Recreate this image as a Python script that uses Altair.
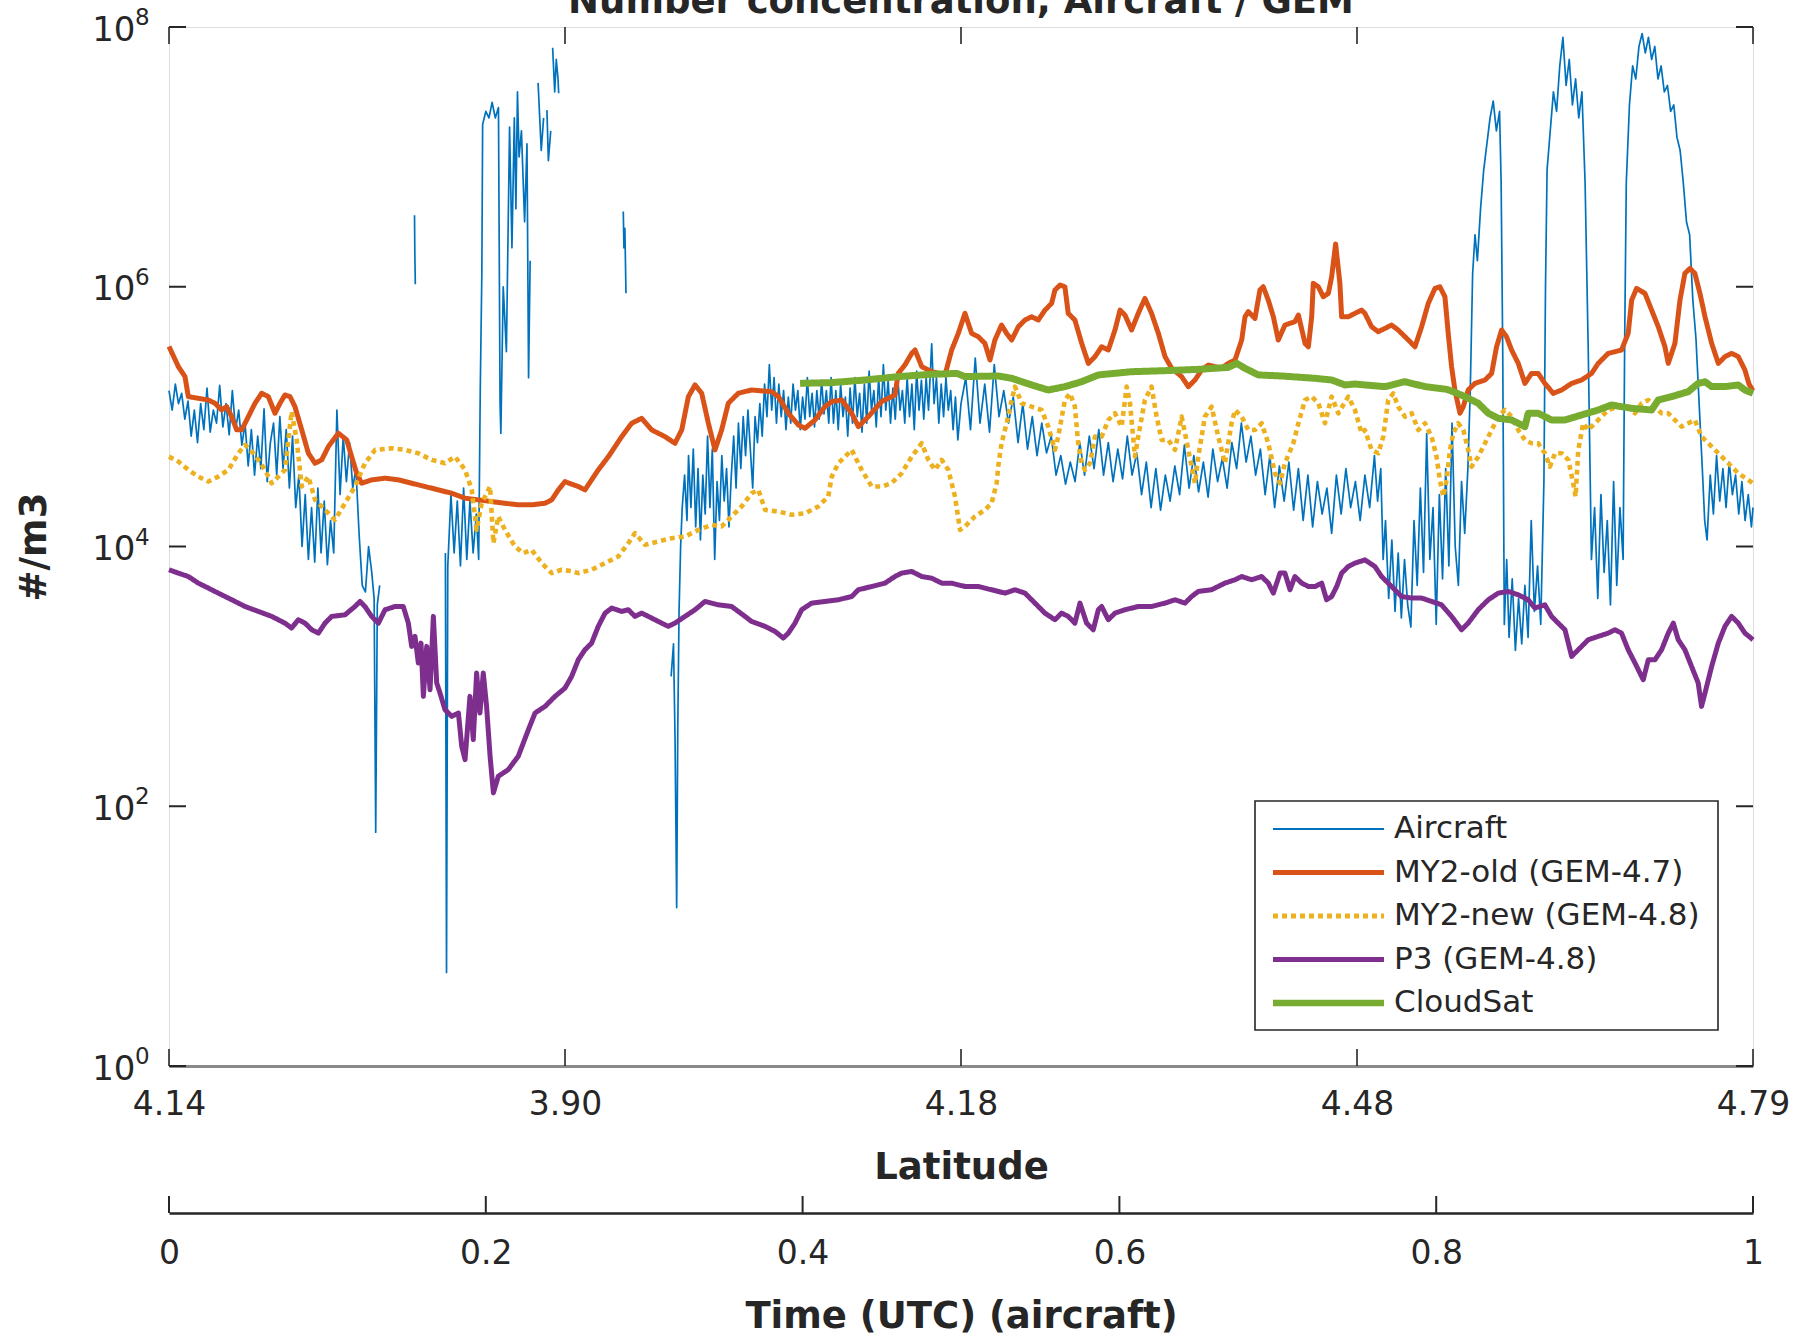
import json
import altair as alt
import pandas as pd

# ---------------- data (x: fraction of flight time 0..1, value: log10 of #/m3) -------------
TITLE = "Number concentration, Aircraft / GEM"
SERIES = ["Aircraft", "MY2-old (GEM-4.7)", "MY2-new (GEM-4.8)", "P3 (GEM-4.8)", "CloudSat"]
COLORS = ["#0072BD", "#D95319", "#EDB120", "#7E2F8E", "#77AC30"]
WIDTHS = [1.7, 5.0, 4.6, 5.0, 7.0]
LEGEND_WIDTHS = [2.2, 5.0, 5.0, 5.0, 6.5]
DASHES = [[1, 0], [1, 0], [5, 4], [1, 0], [1, 0]]

LAT_TICK_POS = [0, 0.25, 0.5, 0.75, 1]
LAT_TICK_LABELS = ["4.14", "3.90", "4.18", "4.48", "4.79"]
TIME_TICKS = [0, 0.2, 0.4, 0.6, 0.8, 1]
TIME_TICK_LABELS = ["0", "0.2", "0.4", "0.6", "0.8", "1"]
Y_TICK_EXP = [0, 2, 4, 6, 8]

AIRCRAFT_SEGMENTS = [
    [(0.000, 5.20), (0.002, 5.05), (0.004, 5.25), (0.006, 5.10), (0.008, 5.18), (0.010, 4.98),
     (0.012, 5.12), (0.014, 4.85), (0.016, 5.05), (0.018, 4.80), (0.020, 5.10), (0.022, 4.90),
     (0.024, 5.22), (0.026, 4.88), (0.028, 5.05), (0.030, 4.95), (0.032, 5.24), (0.034, 4.92),
     (0.036, 5.10), (0.038, 4.86), (0.040, 5.20), (0.042, 4.90), (0.044, 5.05), (0.046, 4.78),
     (0.048, 4.95), (0.050, 4.62), (0.052, 4.90), (0.054, 4.55), (0.056, 4.85), (0.058, 4.60),
     (0.060, 5.06), (0.062, 4.50), (0.064, 4.80), (0.066, 4.95), (0.068, 4.55), (0.070, 5.00),
     (0.072, 4.60), (0.074, 4.90), (0.076, 4.45), (0.078, 4.85), (0.080, 4.30), (0.082, 4.55),
     (0.084, 4.00), (0.086, 4.40), (0.088, 3.90), (0.090, 4.30), (0.092, 3.88), (0.094, 4.45),
     (0.096, 3.95), (0.098, 4.35), (0.100, 3.86), (0.102, 4.20), (0.104, 3.95), (0.106, 5.05),
     (0.108, 4.40), (0.110, 4.85), (0.112, 4.50), (0.114, 4.80), (0.116, 4.45), (0.118, 4.60),
     (0.120, 4.10), (0.122, 3.70), (0.124, 3.65), (0.126, 4.00), (0.128, 3.80), (0.1295, 3.60),
     (0.1305, 1.80), (0.1315, 3.55), (0.133, 3.70)],
    [(0.1550, 6.55), (0.1552, 6.25), (0.1555, 6.02)],
    [(0.1745, 3.95), (0.1752, 0.72), (0.1760, 3.85), (0.178, 4.40), (0.180, 3.95), (0.182, 4.35),
     (0.184, 3.85), (0.186, 4.45), (0.188, 3.90), (0.190, 4.35), (0.192, 3.95), (0.194, 4.25),
     (0.1955, 3.90), (0.1965, 5.20), (0.1975, 6.10), (0.198, 7.25), (0.200, 7.35), (0.202, 7.30),
     (0.204, 7.42), (0.206, 7.30), (0.208, 7.38), (0.209, 5.10), (0.2095, 4.87), (0.211, 6.00),
     (0.213, 5.50), (0.215, 7.23), (0.2165, 6.30), (0.218, 7.30), (0.219, 6.60), (0.220, 7.50),
     (0.221, 7.00), (0.2225, 7.20), (0.2245, 6.50), (0.226, 7.10), (0.227, 5.30), (0.228, 6.20)],
    [(0.233, 7.57), (0.235, 7.05), (0.2365, 7.30)],
    [(0.2386, 7.36), (0.2395, 6.97), (0.241, 7.20)],
    [(0.2422, 7.84), (0.2435, 7.50), (0.2445, 7.75), (0.2456, 7.60), (0.246, 7.49)],
    [(0.2868, 6.58), (0.2872, 6.30), (0.2878, 6.45), (0.2885, 5.95)],
    [(0.3170, 3.00), (0.3185, 3.25), (0.3195, 2.50), (0.3205, 1.22), (0.3212, 2.60), (0.3220, 3.50),
     (0.3230, 4.00), (0.3240, 4.30), (0.3255, 4.55), (0.3270, 4.20), (0.3280, 4.70), (0.3295, 4.30),
     (0.3310, 4.75), (0.3325, 4.15), (0.3340, 4.60), (0.3355, 4.05), (0.3370, 4.55), (0.3385, 4.25),
     (0.3400, 4.85), (0.3415, 4.30), (0.3430, 4.75), (0.3445, 3.90), (0.3460, 4.50), (0.3475, 4.20),
     (0.3490, 4.70), (0.3505, 4.35), (0.3520, 4.60), (0.3535, 4.15), (0.3550, 4.55), (0.3565, 4.85),
     (0.3580, 4.45), (0.3595, 4.95), (0.3610, 4.60), (0.3625, 5.00), (0.3640, 4.70), (0.3655, 5.05),
     (0.3670, 4.75), (0.3685, 4.45), (0.3700, 5.00), (0.3715, 4.80), (0.3730, 5.10), (0.3745, 4.85),
     (0.3760, 5.25), (0.3775, 5.00), (0.3790, 5.40), (0.3805, 5.05), (0.3820, 5.30), (0.3835, 4.95),
     (0.3850, 5.25), (0.3865, 5.00), (0.3880, 5.20), (0.3895, 4.90), (0.3910, 5.15), (0.3925, 4.95),
     (0.3940, 5.25), (0.3955, 5.05), (0.3970, 5.20), (0.3985, 4.90), (0.4000, 5.15), (0.4015, 4.98),
     (0.4030, 5.30), (0.4045, 5.00), (0.4060, 5.18), (0.4075, 4.92), (0.4090, 5.20), (0.4105, 4.98),
     (0.4120, 5.28), (0.4135, 5.02), (0.4150, 5.20), (0.4165, 4.95), (0.4180, 5.30), (0.4195, 4.95),
     (0.4210, 5.20), (0.4225, 4.90), (0.4240, 5.25), (0.4255, 5.00), (0.4270, 5.15), (0.4285, 4.85),
     (0.4300, 5.22), (0.4315, 4.95), (0.4330, 5.30), (0.4345, 5.00), (0.4360, 5.18), (0.4375, 4.88),
     (0.4390, 5.25), (0.4405, 4.95), (0.4420, 5.35), (0.4435, 5.05), (0.4450, 5.20), (0.4465, 4.92),
     (0.4480, 5.30), (0.4495, 5.00), (0.4510, 5.40), (0.4525, 5.05), (0.4540, 5.28), (0.4555, 4.95),
     (0.4570, 5.22), (0.4585, 4.98), (0.4600, 5.32), (0.4615, 5.05), (0.4630, 5.20), (0.4645, 4.95),
     (0.4660, 5.30), (0.4675, 5.00), (0.4690, 5.25), (0.4705, 4.90), (0.4720, 5.35), (0.4735, 5.05),
     (0.4750, 5.28), (0.4765, 4.98), (0.4780, 5.30), (0.4795, 5.05), (0.4815, 5.56), (0.4830, 5.10),
     (0.4845, 5.30), (0.4860, 4.95), (0.4875, 5.25), (0.4890, 5.00), (0.4905, 5.30), (0.4920, 5.05),
     (0.4935, 5.20), (0.4950, 4.90), (0.4965, 5.15), (0.4980, 4.82), (0.5000, 5.10), (0.503, 5.30),
     (0.506, 4.90), (0.509, 5.45), (0.512, 4.95), (0.515, 5.25), (0.518, 4.88), (0.521, 5.40),
     (0.524, 5.00), (0.527, 5.20), (0.530, 4.95), (0.533, 5.15), (0.536, 4.80), (0.539, 5.10),
     (0.542, 4.75), (0.545, 5.00), (0.548, 4.70), (0.551, 4.95), (0.554, 4.72), (0.557, 4.85),
     (0.560, 4.55), (0.563, 4.70), (0.566, 4.48), (0.569, 4.65), (0.572, 4.50), (0.575, 4.80),
     (0.578, 4.55), (0.581, 4.85), (0.584, 4.60), (0.587, 4.90), (0.590, 4.55), (0.593, 4.80),
     (0.596, 4.50), (0.599, 4.75), (0.602, 4.52), (0.605, 4.85), (0.608, 4.55), (0.611, 4.72),
     (0.614, 4.40), (0.617, 4.65), (0.620, 4.30), (0.623, 4.60), (0.626, 4.28), (0.629, 4.55),
     (0.632, 4.35), (0.635, 4.62), (0.638, 4.40), (0.641, 4.78), (0.644, 4.45), (0.647, 4.70),
     (0.650, 4.42), (0.653, 4.65), (0.656, 4.38), (0.659, 4.75), (0.662, 4.50), (0.665, 4.68),
     (0.668, 4.45), (0.671, 4.80), (0.674, 4.60), (0.677, 4.95), (0.680, 4.65), (0.683, 4.85),
     (0.686, 4.55), (0.689, 4.75), (0.692, 4.40), (0.695, 4.70), (0.698, 4.30), (0.701, 4.62),
     (0.704, 4.35), (0.707, 4.65), (0.710, 4.28), (0.713, 4.60), (0.716, 4.20), (0.719, 4.55),
     (0.722, 4.15), (0.725, 4.50), (0.728, 4.25), (0.731, 4.45), (0.734, 4.10), (0.737, 4.55),
     (0.740, 4.25), (0.743, 4.60), (0.746, 4.30), (0.749, 4.50), (0.752, 4.20), (0.755, 4.55),
     (0.758, 4.30), (0.761, 4.70), (0.763, 4.35), (0.765, 4.60), (0.7665, 3.90), (0.768, 4.20),
     (0.770, 3.60), (0.772, 4.05), (0.774, 3.50), (0.776, 3.95), (0.778, 3.45), (0.780, 3.90),
     (0.782, 3.55), (0.784, 3.38), (0.786, 4.20), (0.788, 3.70), (0.790, 4.45), (0.792, 3.80),
     (0.794, 4.87), (0.796, 3.90), (0.798, 4.30), (0.800, 3.40), (0.802, 4.40), (0.804, 3.75),
     (0.806, 4.60), (0.808, 3.85), (0.810, 4.95), (0.812, 4.00), (0.814, 3.70), (0.816, 4.50),
     (0.818, 4.10), (0.820, 4.60), (0.8215, 5.20), (0.823, 6.10), (0.8245, 6.40), (0.826, 6.20),
     (0.828, 6.60), (0.830, 6.90), (0.832, 7.10), (0.834, 7.30), (0.836, 7.43), (0.838, 7.20),
     (0.840, 7.35), (0.841, 6.80), (0.842, 5.50), (0.843, 3.40), (0.8445, 3.90), (0.846, 3.30),
     (0.848, 3.75), (0.850, 3.20), (0.852, 3.60), (0.854, 3.25), (0.856, 3.70), (0.858, 3.30),
     (0.860, 4.20), (0.862, 3.50), (0.864, 3.85), (0.866, 3.40), (0.868, 4.50), (0.869, 6.00),
     (0.870, 6.90), (0.872, 7.20), (0.874, 7.50), (0.876, 7.35), (0.878, 7.70), (0.880, 7.92),
     (0.882, 7.55), (0.884, 7.75), (0.886, 7.40), (0.888, 7.60), (0.890, 7.30), (0.892, 7.50),
     (0.894, 6.80), (0.896, 5.50), (0.898, 3.90), (0.900, 4.30), (0.902, 3.60), (0.904, 4.40),
     (0.906, 3.80), (0.908, 4.20), (0.910, 3.55), (0.912, 4.50), (0.914, 3.70), (0.916, 4.30),
     (0.918, 3.90), (0.919, 5.60), (0.920, 6.80), (0.922, 7.40), (0.924, 7.70), (0.926, 7.60),
     (0.928, 7.85), (0.930, 7.95), (0.932, 7.80), (0.934, 7.92), (0.936, 7.75), (0.938, 7.85),
     (0.940, 7.60), (0.942, 7.70), (0.944, 7.50), (0.946, 7.55), (0.948, 7.35), (0.950, 7.40),
     (0.952, 7.15), (0.954, 7.05), (0.956, 6.80), (0.958, 6.50), (0.960, 6.40), (0.962, 5.90),
     (0.964, 5.60), (0.966, 5.10), (0.968, 4.60), (0.9695, 4.20), (0.971, 4.05), (0.973, 4.55),
     (0.975, 4.25), (0.977, 4.70), (0.979, 4.35), (0.981, 4.60), (0.983, 4.30), (0.985, 4.65),
     (0.987, 4.40), (0.989, 4.55), (0.991, 4.25), (0.993, 4.50), (0.995, 4.20), (0.997, 4.40),
     (0.999, 4.15), (1.000, 4.30)],
]

MY2_OLD = [
    (0.0, 5.54), (0.0059, 5.385), (0.0101, 5.308), (0.0122, 5.154), (0.0185, 5.141), (0.0248, 5.128),
    (0.029, 5.103), (0.0332, 5.051), (0.0364, 5.077), (0.0396, 5.0), (0.0427, 4.898), (0.0459, 4.898),
    (0.0501, 5.0), (0.0543, 5.103), (0.0585, 5.18), (0.0627, 5.154), (0.0669, 5.026), (0.0701, 5.103),
    (0.0732, 5.167), (0.0764, 5.154), (0.0795, 5.077), (0.0838, 4.898), (0.088, 4.718), (0.0922, 4.641),
    (0.0964, 4.667), (0.1006, 4.769), (0.1069, 4.872), (0.1122, 4.821), (0.1153, 4.692), (0.1185, 4.564),
    (0.1216, 4.487), (0.1279, 4.513), (0.1364, 4.526), (0.1448, 4.513), (0.1532, 4.487), (0.1616, 4.462),
    (0.17, 4.436), (0.1785, 4.41), (0.1869, 4.372), (0.1953, 4.359), (0.2037, 4.346), (0.2121, 4.333),
    (0.2205, 4.321), (0.229, 4.321), (0.2374, 4.333), (0.2416, 4.359), (0.2458, 4.436), (0.25, 4.5),
    (0.2542, 4.48), (0.2584, 4.462), (0.2626, 4.436), (0.271, 4.59), (0.2774, 4.692), (0.2858, 4.846),
    (0.2921, 4.949), (0.2984, 4.987), (0.3047, 4.898), (0.3131, 4.846), (0.3194, 4.795), (0.3237, 4.898),
    (0.3279, 5.154), (0.3321, 5.244), (0.3363, 5.18), (0.3405, 4.949), (0.3447, 4.744), (0.3489, 4.898),
    (0.3531, 5.103), (0.3594, 5.18), (0.3678, 5.205), (0.3805, 5.192), (0.3847, 5.154), (0.391, 5.026),
    (0.3973, 4.936), (0.4015, 4.91), (0.4078, 4.974), (0.4141, 5.077), (0.4184, 5.116), (0.4247, 5.128),
    (0.431, 5.026), (0.4352, 4.923), (0.4415, 5.0), (0.4499, 5.116), (0.4583, 5.167), (0.4604, 5.333),
    (0.4646, 5.398), (0.4689, 5.487), (0.471, 5.513), (0.4752, 5.385), (0.4815, 5.346), (0.4899, 5.321),
    (0.4941, 5.513), (0.4983, 5.641), (0.5025, 5.795), (0.5067, 5.641), (0.5109, 5.615), (0.5151, 5.564),
    (0.5183, 5.436), (0.5214, 5.59), (0.5256, 5.705), (0.5288, 5.641), (0.532, 5.59), (0.5362, 5.692),
    (0.5404, 5.744), (0.5446, 5.769), (0.5488, 5.744), (0.553, 5.82), (0.5572, 5.872), (0.5593, 5.974),
    (0.5625, 6.013), (0.5656, 6.0), (0.5677, 5.795), (0.5719, 5.744), (0.5762, 5.564), (0.5804, 5.41),
    (0.5846, 5.462), (0.5888, 5.538), (0.593, 5.513), (0.5972, 5.667), (0.6004, 5.82), (0.6035, 5.782),
    (0.6077, 5.667), (0.6119, 5.795), (0.6161, 5.91), (0.6203, 5.795), (0.6246, 5.641), (0.6288, 5.462),
    (0.633, 5.372), (0.6393, 5.308), (0.6435, 5.231), (0.6477, 5.282), (0.6519, 5.359), (0.6561, 5.397),
    (0.6603, 5.385), (0.6645, 5.372), (0.6687, 5.41), (0.673, 5.436), (0.6772, 5.59), (0.6793, 5.769),
    (0.6814, 5.808), (0.6856, 5.756), (0.6887, 5.974), (0.6908, 6.0), (0.694, 5.897), (0.6972, 5.769),
    (0.7003, 5.59), (0.7045, 5.705), (0.7108, 5.731), (0.713, 5.782), (0.7172, 5.564), (0.7193, 5.538),
    (0.7214, 5.769), (0.7224, 6.026), (0.7256, 6.0), (0.7287, 5.923), (0.7319, 5.949), (0.734, 6.077),
    (0.7365, 6.33), (0.7392, 6.026), (0.7403, 5.769), (0.7445, 5.769), (0.7487, 5.795), (0.7529, 5.82),
    (0.755, 5.795), (0.7592, 5.692), (0.7634, 5.654), (0.7676, 5.679), (0.7718, 5.705), (0.776, 5.667),
    (0.7824, 5.59), (0.7866, 5.538), (0.7908, 5.692), (0.795, 5.872), (0.7992, 5.987), (0.8023, 6.0),
    (0.8055, 5.923), (0.8076, 5.641), (0.8097, 5.385), (0.8118, 5.205), (0.815, 5.026), (0.8171, 5.077),
    (0.8202, 5.205), (0.8244, 5.256), (0.8308, 5.282), (0.835, 5.333), (0.8381, 5.538), (0.8413, 5.667),
    (0.8444, 5.615), (0.8476, 5.513), (0.8518, 5.41), (0.856, 5.256), (0.8602, 5.333), (0.8644, 5.333),
    (0.8686, 5.256), (0.8739, 5.179), (0.8792, 5.205), (0.8855, 5.256), (0.8918, 5.282), (0.8981, 5.333),
    (0.9023, 5.41), (0.9086, 5.487), (0.917, 5.513), (0.9212, 5.641), (0.9234, 5.897), (0.9265, 5.987),
    (0.9318, 5.949), (0.936, 5.82), (0.9402, 5.692), (0.9444, 5.538), (0.9465, 5.41), (0.9507, 5.564),
    (0.9539, 5.897), (0.957, 6.103), (0.9602, 6.141), (0.9633, 6.103), (0.9665, 5.949), (0.9697, 5.769),
    (0.9739, 5.564), (0.9781, 5.41), (0.9823, 5.462), (0.9865, 5.487), (0.9907, 5.462), (0.9949, 5.359),
    (0.9975, 5.25), (1.0, 5.2),
]

MY2_NEW = [
    (0.0, 4.692), (0.0059, 4.654), (0.0122, 4.59), (0.0185, 4.538), (0.0248, 4.5), (0.0311, 4.538),
    (0.0375, 4.59), (0.0438, 4.718), (0.048, 4.782), (0.0522, 4.731), (0.0564, 4.667), (0.0606, 4.59),
    (0.0648, 4.487), (0.069, 4.538), (0.0732, 4.59), (0.0774, 5.038), (0.0806, 4.821), (0.0838, 4.462),
    (0.088, 4.538), (0.0922, 4.359), (0.0985, 4.282), (0.1048, 4.205), (0.1111, 4.333), (0.1174, 4.462),
    (0.1237, 4.641), (0.1301, 4.744), (0.1406, 4.756), (0.149, 4.744), (0.1574, 4.718), (0.1658, 4.667),
    (0.1742, 4.641), (0.1806, 4.692), (0.1869, 4.59), (0.1911, 4.436), (0.1942, 4.128), (0.1974, 4.333),
    (0.2027, 4.462), (0.2048, 4.026), (0.2079, 4.231), (0.2121, 4.128), (0.2184, 4.0), (0.2237, 3.949),
    (0.229, 3.974), (0.2353, 3.872), (0.2416, 3.795), (0.2479, 3.821), (0.2542, 3.81), (0.2584, 3.795),
    (0.2668, 3.821), (0.2753, 3.872), (0.2837, 3.923), (0.29, 4.026), (0.2942, 4.103), (0.3005, 4.013),
    (0.3089, 4.039), (0.3173, 4.064), (0.3258, 4.077), (0.3342, 4.128), (0.3426, 4.167), (0.3489, 4.154),
    (0.3552, 4.231), (0.3615, 4.308), (0.3678, 4.41), (0.3721, 4.436), (0.3763, 4.282), (0.3847, 4.269),
    (0.3931, 4.244), (0.4015, 4.256), (0.4099, 4.308), (0.4162, 4.385), (0.4184, 4.538), (0.4226, 4.641),
    (0.431, 4.744), (0.4373, 4.59), (0.4436, 4.462), (0.4499, 4.462), (0.4562, 4.487), (0.4625, 4.564),
    (0.4689, 4.692), (0.4752, 4.795), (0.4794, 4.667), (0.4836, 4.59), (0.4878, 4.667), (0.492, 4.59),
    (0.4962, 4.385), (0.4994, 4.128), (0.5025, 4.154), (0.5088, 4.231), (0.5151, 4.282), (0.5193, 4.333),
    (0.5225, 4.487), (0.5235, 4.615), (0.5256, 4.795), (0.5288, 4.949), (0.532, 5.128), (0.5341, 5.231),
    (0.5383, 5.103), (0.5446, 5.077), (0.5509, 5.051), (0.5551, 4.923), (0.5593, 4.744), (0.5614, 4.846),
    (0.5656, 5.128), (0.5688, 5.179), (0.5719, 5.077), (0.574, 4.795), (0.5762, 4.641), (0.5783, 4.59),
    (0.5814, 4.641), (0.5846, 4.846), (0.5888, 4.846), (0.593, 4.974), (0.5972, 5.026), (0.6014, 4.923),
    (0.6046, 5.231), (0.6067, 5.103), (0.6098, 4.692), (0.6119, 4.846), (0.6161, 5.128), (0.6203, 5.231),
    (0.6235, 5.0), (0.6267, 4.82), (0.6309, 4.82), (0.6351, 4.744), (0.6393, 5.0), (0.6435, 4.744),
    (0.6477, 4.487), (0.6498, 4.692), (0.654, 5.0), (0.6582, 5.077), (0.6624, 4.846), (0.6666, 4.641),
    (0.6708, 4.949), (0.673, 5.051), (0.6772, 5.0), (0.6814, 4.897), (0.6856, 4.897), (0.6898, 4.949),
    (0.694, 4.795), (0.6982, 4.564), (0.7014, 4.487), (0.7045, 4.641), (0.7098, 4.795), (0.713, 4.949),
    (0.7172, 5.128), (0.7214, 5.154), (0.7256, 5.103), (0.7298, 4.949), (0.734, 5.154), (0.7382, 5.026),
    (0.7445, 5.154), (0.7487, 5.051), (0.7529, 4.872), (0.755, 4.897), (0.7592, 4.744), (0.7634, 4.718),
    (0.7666, 4.846), (0.7697, 5.128), (0.7729, 5.179), (0.776, 5.077), (0.7803, 5.0), (0.7845, 5.026),
    (0.7887, 4.897), (0.7929, 4.949), (0.7971, 4.846), (0.8002, 4.692), (0.8023, 4.513), (0.8045, 4.385),
    (0.8066, 4.513), (0.8087, 4.744), (0.8108, 4.872), (0.8139, 4.949), (0.8171, 4.897), (0.8202, 4.744),
    (0.8223, 4.615), (0.8266, 4.692), (0.8308, 4.795), (0.835, 4.897), (0.8392, 5.0), (0.8434, 5.051),
    (0.8476, 5.0), (0.8518, 4.897), (0.856, 4.82), (0.8602, 4.795), (0.8644, 4.795), (0.8686, 4.718),
    (0.8718, 4.615), (0.875, 4.718), (0.8792, 4.718), (0.8834, 4.667), (0.8865, 4.487), (0.888, 4.385),
    (0.8897, 4.744), (0.8928, 4.949), (0.896, 4.897), (0.9002, 4.949), (0.9044, 5.0), (0.9086, 5.051),
    (0.9149, 5.077), (0.9212, 5.077), (0.9255, 5.026), (0.9297, 5.103), (0.9339, 5.128), (0.9381, 5.077),
    (0.9423, 5.026), (0.9465, 5.026), (0.9507, 4.974), (0.9549, 4.923), (0.9591, 4.949), (0.9633, 4.974),
    (0.9675, 4.846), (0.9718, 4.795), (0.9781, 4.718), (0.9844, 4.641), (0.9907, 4.564), (0.997, 4.513),
    (1.0, 4.487),
]

P3 = [
    (0.0, 3.821), (0.0059, 3.795), (0.0122, 3.769), (0.0185, 3.718), (0.0248, 3.68), (0.0311, 3.641),
    (0.0396, 3.59), (0.048, 3.538), (0.0564, 3.5), (0.0648, 3.462), (0.0732, 3.41), (0.0774, 3.372),
    (0.0816, 3.436), (0.0859, 3.41), (0.0901, 3.359), (0.0943, 3.333), (0.0985, 3.41), (0.1027, 3.462),
    (0.1111, 3.474), (0.1174, 3.538), (0.1206, 3.577), (0.1237, 3.538), (0.1279, 3.462), (0.1322, 3.41),
    (0.1364, 3.513), (0.1427, 3.538), (0.1479, 3.538), (0.1511, 3.41), (0.1532, 3.231), (0.1553, 3.308),
    (0.1574, 3.103), (0.1591, 3.256), (0.1606, 2.846), (0.1627, 3.231), (0.1648, 2.897), (0.1669, 3.462),
    (0.169, 2.949), (0.1711, 2.872), (0.1742, 2.744), (0.1785, 2.692), (0.1827, 2.718), (0.1848, 2.462),
    (0.1869, 2.359), (0.19, 2.846), (0.1921, 2.513), (0.1942, 3.026), (0.1963, 2.718), (0.1984, 3.026),
    (0.2005, 2.769), (0.2027, 2.385), (0.2048, 2.103), (0.2079, 2.231), (0.2142, 2.282), (0.2205, 2.385),
    (0.2269, 2.59), (0.2311, 2.718), (0.2374, 2.769), (0.2437, 2.846), (0.25, 2.91), (0.2542, 3.0),
    (0.2584, 3.128), (0.2626, 3.205), (0.2668, 3.256), (0.271, 3.385), (0.2753, 3.487), (0.2795, 3.526),
    (0.2858, 3.5), (0.29, 3.513), (0.2942, 3.462), (0.2984, 3.487), (0.3026, 3.462), (0.3068, 3.436),
    (0.311, 3.41), (0.3152, 3.385), (0.3194, 3.41), (0.3258, 3.462), (0.3321, 3.513), (0.3384, 3.577),
    (0.3468, 3.551), (0.3552, 3.538), (0.3636, 3.462), (0.3678, 3.423), (0.3763, 3.385), (0.3826, 3.346),
    (0.3878, 3.295), (0.391, 3.333), (0.3952, 3.41), (0.3994, 3.513), (0.4057, 3.564), (0.4141, 3.577),
    (0.4226, 3.59), (0.431, 3.615), (0.4352, 3.667), (0.4436, 3.692), (0.452, 3.718), (0.4583, 3.769),
    (0.4625, 3.795), (0.4689, 3.808), (0.4752, 3.769), (0.4815, 3.756), (0.4878, 3.718), (0.4941, 3.718),
    (0.5025, 3.692), (0.5109, 3.692), (0.5193, 3.667), (0.5278, 3.641), (0.5341, 3.667), (0.5404, 3.641),
    (0.5467, 3.564), (0.553, 3.487), (0.5593, 3.436), (0.5635, 3.487), (0.5677, 3.462), (0.5719, 3.41),
    (0.5751, 3.564), (0.5793, 3.41), (0.5835, 3.359), (0.5867, 3.513), (0.5888, 3.538), (0.593, 3.436),
    (0.5972, 3.487), (0.6035, 3.513), (0.6119, 3.538), (0.6203, 3.538), (0.6288, 3.564), (0.6351, 3.59),
    (0.6414, 3.564), (0.6456, 3.615), (0.6498, 3.654), (0.6582, 3.667), (0.6666, 3.718), (0.673, 3.744),
    (0.6772, 3.769), (0.6835, 3.744), (0.6898, 3.769), (0.694, 3.718), (0.6972, 3.641), (0.7014, 3.795),
    (0.7045, 3.795), (0.7077, 3.667), (0.7108, 3.769), (0.7151, 3.718), (0.7193, 3.692), (0.7235, 3.692),
    (0.7277, 3.718), (0.7308, 3.59), (0.734, 3.615), (0.7372, 3.692), (0.7403, 3.795), (0.7445, 3.846),
    (0.7487, 3.872), (0.755, 3.897), (0.7613, 3.846), (0.7655, 3.769), (0.7697, 3.718), (0.7739, 3.667),
    (0.7781, 3.615), (0.7845, 3.603), (0.7908, 3.603), (0.7971, 3.577), (0.8034, 3.551), (0.8097, 3.462),
    (0.816, 3.359), (0.8202, 3.41), (0.8265, 3.513), (0.8329, 3.59), (0.8392, 3.641), (0.8455, 3.654),
    (0.8518, 3.628), (0.8581, 3.59), (0.8623, 3.526), (0.8686, 3.551), (0.8728, 3.462), (0.877, 3.41),
    (0.8813, 3.359), (0.8855, 3.154), (0.8897, 3.205), (0.896, 3.282), (0.9023, 3.308), (0.9086, 3.333),
    (0.9128, 3.359), (0.917, 3.333), (0.9212, 3.205), (0.9255, 3.103), (0.9307, 2.974), (0.9339, 3.128),
    (0.9381, 3.128), (0.9423, 3.205), (0.9465, 3.333), (0.9497, 3.41), (0.9528, 3.282), (0.957, 3.205),
    (0.9612, 3.077), (0.9654, 2.949), (0.9675, 2.769), (0.9697, 2.872), (0.9739, 3.077), (0.9781, 3.256),
    (0.9823, 3.385), (0.9865, 3.462), (0.9907, 3.41), (0.9949, 3.333), (1.0, 3.282),
]

CLOUDSAT = [
    (0.3984, 5.256), (0.4184, 5.262), (0.4394, 5.282), (0.4604, 5.308), (0.4815, 5.326), (0.4973, 5.333),
    (0.5025, 5.308), (0.5235, 5.313), (0.532, 5.295), (0.5446, 5.244), (0.5551, 5.205), (0.5656, 5.231),
    (0.5762, 5.269), (0.5867, 5.321), (0.6077, 5.346), (0.6288, 5.354), (0.6498, 5.364), (0.6687, 5.379),
    (0.674, 5.41), (0.6793, 5.372), (0.6877, 5.321), (0.7024, 5.313), (0.7235, 5.295), (0.734, 5.282),
    (0.7424, 5.244), (0.7487, 5.251), (0.755, 5.244), (0.7676, 5.231), (0.7803, 5.269), (0.7929, 5.231),
    (0.8066, 5.21), (0.8108, 5.192), (0.8181, 5.154), (0.8265, 5.103), (0.8329, 5.026), (0.8392, 4.987),
    (0.8476, 4.974), (0.856, 4.923), (0.8581, 5.026), (0.8644, 5.026), (0.8728, 4.974), (0.8813, 4.974),
    (0.8918, 5.013), (0.9023, 5.051), (0.9107, 5.09), (0.9234, 5.064), (0.936, 5.051), (0.9402, 5.128),
    (0.9486, 5.154), (0.9591, 5.192), (0.9654, 5.256), (0.9697, 5.269), (0.9739, 5.231), (0.9823, 5.231),
    (0.9907, 5.244), (0.9949, 5.205), (1.0, 5.179),
]

# ---------------- frames -------------
def frame(points, name, seg=0):
    return pd.DataFrame({"t": [p[0] for p in points],
                         "v": [10 ** p[1] for p in points],
                         "seg": seg, "series": name})

air_df = pd.concat([frame(s, SERIES[0], i) for i, s in enumerate(AIRCRAFT_SEGMENTS)], ignore_index=True)
old_df = frame(MY2_OLD, SERIES[1])
new_df = frame(MY2_NEW, SERIES[2])
p3_df = frame(P3, SERIES[3])
cs_df = frame(CLOUDSAT, SERIES[4])

lat_df = pd.DataFrame({"t": LAT_TICK_POS})
time_df = pd.DataFrame({"t": TIME_TICKS})
ytick_df = pd.DataFrame({"v": [10.0 ** e for e in Y_TICK_EXP], "e": [str(e) for e in Y_TICK_EXP]})
title_df = pd.DataFrame({"title": [TITLE]})
one_df = pd.DataFrame({"k": [0]})

# ---------------- layout constants -------------
W, H = 1584, 1039
TIME_OFFSET = 147
TICK = 17
INK = "#262626"
FONT = "DejaVu Sans"
# legend box (pixels, relative to the plot area)
LEG_X0, LEG_Y0, LEG_W, LEG_H = 1086, 774, 463, 229
LEG_ROW0, LEG_ROW_STEP = 802, 43.5
LEG_SYM_X0, LEG_SYM_X1, LEG_TXT_X = 1104, 1215, 1225

xscale = alt.Scale(domain=[0, 1], nice=False, zero=False)
yscale = alt.Scale(type="log", domain=[1, 1e8], nice=False)

yaxis = alt.Axis(title="#/m3", values=[10.0 ** e for e in Y_TICK_EXP], labelExpr="'10'",
                 ticks=False, tickSize=0, domain=False, grid=False,
                 labelFont=FONT, labelFontSize=34, labelColor=INK, labelPadding=34, labelOffset=3,
                 titleFont=FONT, titleFontSize=37, titleFontWeight="bold", titleColor=INK,
                 titleX=-135, titleY=H / 2, titleBaseline="middle", titleAngle=270)
Y = alt.Y("v:Q", scale=yscale, axis=yaxis)
X_NOAXIS = alt.X("t:Q", scale=xscale, axis=None)

color = alt.Color("series:N", scale=alt.Scale(domain=SERIES, range=COLORS), legend=None)
dash = alt.StrokeDash("series:N", scale=alt.Scale(domain=SERIES, range=DASHES), legend=None)


def width_expr(widths):
    return alt.ExprRef(expr=f"{json.dumps(widths)}[indexof({json.dumps(SERIES)}, datum.series)]")


def series_layer(df):
    return alt.Chart(df).mark_line(strokeJoin="round", strokeWidth=width_expr(WIDTHS)).encode(
        x=X_NOAXIS, y=Y, color=color, strokeDash=dash, detail="seg:N")


layers = [series_layer(d) for d in (air_df, old_df, new_df, p3_df, cs_df)]

# legend drawn from the series lists
legend_layers = [alt.Chart(one_df).mark_rect(fill="white", stroke=INK, strokeWidth=1.6).encode(
    x=alt.value(LEG_X0), x2=alt.value(LEG_X0 + LEG_W),
    y=alt.value(LEG_Y0), y2=alt.value(LEG_Y0 + LEG_H))]
for i, name in enumerate(SERIES):
    row_df = pd.DataFrame({"series": [name]})
    ry = LEG_ROW0 + i * LEG_ROW_STEP
    legend_layers.append(alt.Chart(row_df).mark_rule(strokeWidth=width_expr(LEGEND_WIDTHS)).encode(
        x=alt.value(LEG_SYM_X0), x2=alt.value(LEG_SYM_X1), y=alt.value(ry),
        color=color, strokeDash=dash))
    legend_layers.append(alt.Chart(row_df).mark_text(
        align="left", baseline="middle", font=FONT, fontSize=31, color=INK).encode(
        x=alt.value(LEG_TXT_X), y=alt.value(ry), text="series:N"))

lat_labels = json.dumps(LAT_TICK_LABELS)
lat_axis = alt.Axis(orient="bottom", title="Latitude", values=LAT_TICK_POS,
                    labelExpr=f"{lat_labels}[round(datum.value*4)]",
                    ticks=False, tickSize=0, grid=False, domainColor="#8a8a8a", domainWidth=3,
                    labelFont=FONT, labelFontSize=33, labelColor=INK, labelPadding=38,
                    labelBaseline="middle", labelFlush=False, labelOverlap=False, labelBound=False,
                    titleFont=FONT, titleFontSize=37, titleFontWeight="bold", titleColor=INK,
                    titleY=101, titleBaseline="middle")
time_labels = json.dumps(TIME_TICK_LABELS)
time_axis = alt.Axis(orient="bottom", offset=TIME_OFFSET, title="Time (UTC) (aircraft)",
                     values=TIME_TICKS, labelExpr=f"{time_labels}[round(datum.value*5)]",
                     ticks=False, tickSize=0, grid=False, domainColor=INK, domainWidth=2.5,
                     labelFont=FONT, labelFontSize=33, labelColor=INK, labelPadding=40,
                     labelBaseline="middle", labelFlush=False, labelOverlap=False, labelBound=False,
                     titleFont=FONT, titleFontSize=37, titleFontWeight="bold", titleColor=INK,
                     titleY=103, titleBaseline="middle")

lat_bottom = alt.Chart(lat_df).mark_rule(color=INK, strokeWidth=1.6).encode(
    x=alt.X("t:Q", scale=xscale, axis=lat_axis), y=alt.value(H - TICK), y2=alt.value(H))
lat_top = alt.Chart(lat_df).mark_rule(color=INK, strokeWidth=1.6).encode(
    x=X_NOAXIS, y=alt.value(0), y2=alt.value(TICK))
time_ticks = alt.Chart(time_df).mark_rule(color=INK, strokeWidth=2).encode(
    x=alt.X("t:Q", scale=xscale, axis=time_axis),
    y=alt.value(H + TIME_OFFSET - TICK), y2=alt.value(H + TIME_OFFSET))
y_left = alt.Chart(ytick_df).mark_rule(color=INK, strokeWidth=2).encode(
    y=Y, x=alt.value(0), x2=alt.value(TICK))
y_right = alt.Chart(ytick_df).mark_rule(color=INK, strokeWidth=2).encode(
    y=Y, x=alt.value(W - TICK), x2=alt.value(W))
y_exp = alt.Chart(ytick_df).mark_text(align="left", baseline="middle", dx=-34, dy=-9,
                                      font=FONT, fontSize=23, color=INK).encode(
    y=Y, x=alt.value(0), text="e:N")
title_mark = alt.Chart(title_df).mark_text(align="center", baseline="alphabetic", font=FONT,
                                           fontSize=37, fontWeight="bold", color=INK).encode(
    x=alt.value(W / 2), y=alt.value(-14), text="title:N")

chart = alt.layer(*layers, lat_bottom, lat_top, time_ticks, y_left, y_right, y_exp,
                  title_mark, *legend_layers).resolve_axis(x="independent").properties(
    width=W, height=H,
    padding={"left": 169, "top": 27, "right": 41, "bottom": 272},
    autosize=alt.AutoSizeParams(type="none"),
).configure_view(stroke=INK, strokeWidth=2.2).configure(background="white")

chart.save("out.html", embed_options={"renderer": "svg", "actions": False})
